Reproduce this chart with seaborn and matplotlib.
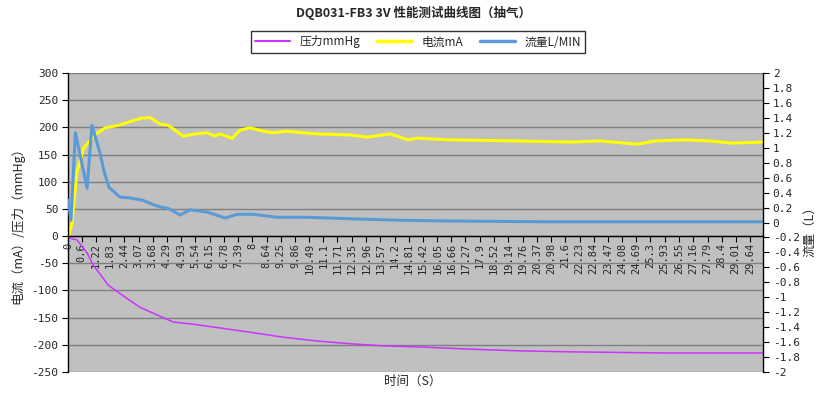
import seaborn as sns
import matplotlib
matplotlib.use('Agg')
import matplotlib.pyplot as plt
from matplotlib.lines import Line2D
from matplotlib.ticker import MultipleLocator, FuncFormatter

# x axis tick labels (time, s)
time_labels = ['0', '0.6', '1.22', '1.83', '2.44', '3.07', '3.68', '4.29', '4.93', '5.54',
               '6.15', '6.78', '7.39', '8', '8.64', '9.25', '9.86', '10.49', '11.1', '11.71',
               '12.35', '12.96', '13.57', '14.2', '14.81', '15.42', '16.05', '16.66', '17.27',
               '17.9', '18.52', '19.14', '19.76', '20.37', '20.98', '21.6', '22.23', '22.84',
               '23.47', '24.08', '24.69', '25.3', '25.93', '26.55', '27.16', '27.79', '28.4',
               '29.01', '29.64']

# pressure mmHg (left axis)
press_t = [0, 0.09, 0.39, 0.83, 1.09, 1.52, 1.74, 2.17, 2.78, 3.13, 3.87, 4.57, 5.43, 6.61,
           7.78, 9.35, 10.83, 12.26, 13.70, 15.30, 17.48, 19.52, 21.96, 25.87, 30.2]
press_v = [0, -4, -7, -31, -53, -77, -90, -103, -121, -131, -145, -158, -162, -169,
           -176, -186, -193, -198, -202, -204, -208, -211, -213, -215, -215]

# current mA (left axis)
curr_t = [0.03, 0.17, 0.39, 0.68, 1.17, 1.61, 2.22, 2.87, 3.22, 3.57, 4.0, 4.35, 5.0, 5.52,
          6.04, 6.39, 6.61, 7.13, 7.48, 7.91, 8.48, 8.91, 9.52, 10.22, 10.83, 12.26, 13.0,
          14.0, 14.78, 15.17, 16.61, 19.52, 21.83, 23.13, 24.74, 25.52, 26.74, 27.91, 28.87, 30.2]
curr_v = [0, 24, 118, 162, 186, 199, 204, 213, 217, 218, 206, 204, 184, 188,
          190, 184, 188, 180, 195, 199, 193, 190, 193, 190, 188, 186, 182,
          188, 177, 180, 177, 175, 173, 175, 169, 175, 177, 175, 171, 173]

# flow L/MIN (right axis)
flow_t = [0, 0.13, 0.32, 0.83, 1.04, 1.39, 1.57, 1.78, 2.26, 2.65, 3.22, 3.87, 4.43, 4.87,
          5.30, 6.04, 6.83, 7.35, 8.04, 9.09, 10.22, 11.39, 12.26, 14.43, 16.61, 20.65, 30.2]
flow_v = [0.30, 0.03, 1.20, 0.46, 1.30, 0.93, 0.68, 0.47, 0.34, 0.33, 0.30, 0.22, 0.18, 0.10,
          0.17, 0.14, 0.06, 0.11, 0.11, 0.07, 0.07, 0.06, 0.05, 0.03, 0.02, 0.01, 0.01]

c_press = '#CC33FF'
c_curr = '#FFFF00'
c_flow = '#5B9BD5'

sns.set_style('ticks')
plt.rcParams['font.family'] = ['Noto Sans CJK SC', 'DejaVu Sans']
plt.rcParams['axes.unicode_minus'] = False

fig = plt.figure(figsize=(8.26, 3.98), dpi=100)
ax = fig.add_axes([68 / 826, 1 - 372 / 398, (763 - 68) / 826, (372 - 73) / 398])
ax.set_facecolor('#C0C0C0')
ax2 = ax.twinx()

sns.lineplot(x=press_t, y=press_v, ax=ax, color=c_press, lw=1.1)
sns.lineplot(x=curr_t, y=curr_v, ax=ax, color=c_curr, lw=2.2)
sns.lineplot(x=flow_t, y=flow_v, ax=ax2, color=c_flow, lw=2.2)

ax.set_xlim(0, 30.2)
ax.set_ylim(-250, 300)
ax.yaxis.set_major_locator(MultipleLocator(50))
ax2.set_ylim(-2, 2)
ax2.yaxis.set_major_locator(MultipleLocator(0.2))
ax2.yaxis.set_major_formatter(FuncFormatter(lambda v, p: f'{round(v, 1) + 0:g}'))

ax.set_xticks([float(s) for s in time_labels])
ax.set_xticklabels(time_labels)

ax.yaxis.grid(True, color='#808080', lw=1.0)
ax.set_axisbelow(True)

for s in ['top', 'right']:
    ax.spines[s].set_visible(False)
for s in ['top', 'left', 'bottom']:
    ax2.spines[s].set_visible(False)
ax.spines['bottom'].set_position(('data', 0))
for sp in [ax.spines['left'], ax.spines['bottom'], ax2.spines['right']]:
    sp.set_color('black')
    sp.set_linewidth(1.0)

ax.tick_params(axis='x', direction='out', length=4, width=0.8, pad=1, labelsize=7.5,
               color='black', labelrotation=90)
ax.tick_params(axis='y', direction='out', length=4, width=0.8, pad=3, labelsize=8,
               color='black')
ax2.tick_params(axis='y', direction='out', length=4, width=0.8, pad=3, labelsize=8,
                color='black')
for lab in ax.get_xticklabels() + ax.get_yticklabels() + ax2.get_yticklabels():
    lab.set_family('DejaVu Sans Mono')

ax.set_xlabel('时间（S）', fontsize=9)
ax.xaxis.set_label_coords(0.496, -0.01)
ax.set_ylabel('电流（mA）/压力（mmHg）', fontsize=9)
ax.yaxis.set_label_coords(-0.063, 0.5)
ax2.set_ylabel('流量（L）', fontsize=9)
ax2.yaxis.set_label_coords(1.058, 0.48)

fig.text(0.5, 1 - 13 / 398, 'DQB031-FB3 3V 性能测试曲线图（抽气）', ha='center', va='center',
         fontsize=9, fontweight='bold')

handles = [Line2D([], [], color=c_press, lw=1.5),
           Line2D([], [], color=c_curr, lw=2.5),
           Line2D([], [], color=c_flow, lw=2.5)]
leg = fig.legend(handles, ['压力mmHg', '电流mA', '流量L/MIN'], loc='center',
                 bbox_to_anchor=(418 / 826, 1 - 42 / 398), ncol=3, fontsize=8.5,
                 frameon=True, fancybox=False, edgecolor='black', handlelength=3,
                 columnspacing=1.4, borderpad=0.35)
leg.get_frame().set_linewidth(1.0)

fig.savefig('out.png', dpi=100)
